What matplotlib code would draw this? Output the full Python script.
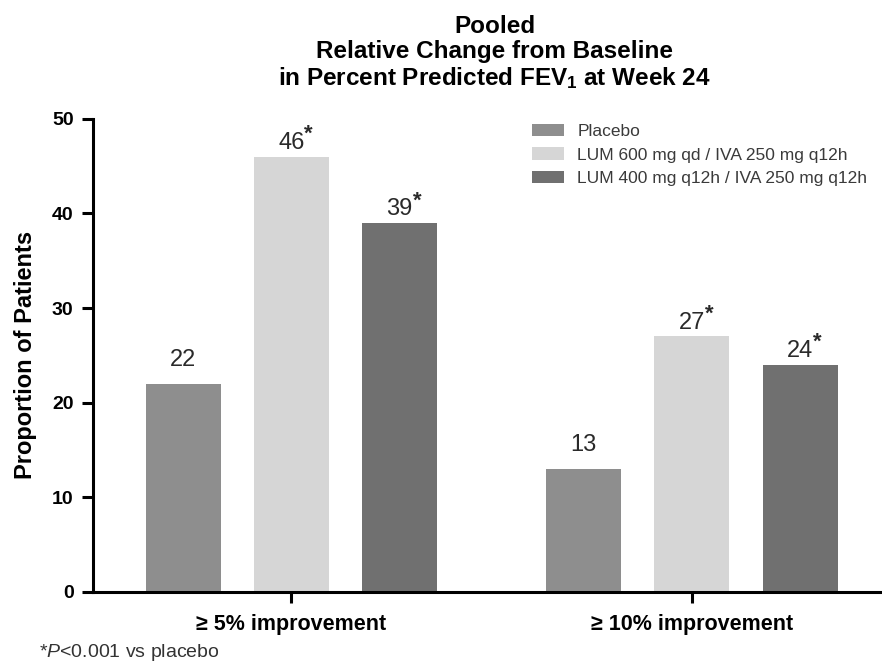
import matplotlib
matplotlib.use("Agg")
import matplotlib.pyplot as plt
import numpy as np

plt.rcParams['font.family'] = ['Liberation Sans', 'DejaVu Sans']
plt.rcParams['mathtext.fontset'] = 'custom'
plt.rcParams['mathtext.rm'] = 'Liberation Sans'
plt.rcParams['mathtext.it'] = 'Liberation Sans:italic'
plt.rcParams['mathtext.bf'] = 'Liberation Sans:bold'

# Data
groups = ["\u2265 5% improvement", "\u2265 10% improvement"]
series = ["Placebo",
          "LUM 600 mg qd / IVA 250 mg q12h",
          "LUM 400 mg q12h / IVA 250 mg q12h"]
placebo = [22, 13]
lum600 = [46, 27]
lum400 = [39, 24]
signif = [[False, False], [True, True], [True, True]]   # P<0.001 vs placebo
colors = ["#8e8e8e", "#d6d6d6", "#707070"]

fig = plt.figure(figsize=(8.82, 6.68), dpi=100)
ax = fig.add_axes([0.1054, 0.1138, 0.8926, 0.7083])

x = np.arange(len(groups))
width = 0.1875
offsets = [-0.27, 0.0, 0.27]

for i, (vals, name) in enumerate(zip([placebo, lum600, lum400], series)):
    bars = ax.bar(x + offsets[i], vals, width, color=colors[i], label=name)
    for j, b in enumerate(bars):
        cx = b.get_x() + b.get_width() / 2
        h = b.get_height()
        if signif[i][j]:
            ax.annotate(str(vals[j]), (cx, h), xytext=(0, 5.5), textcoords="offset points",
                        ha="center", va="baseline", fontsize=17, color="#2a2a2a")
            ax.annotate("*", (cx, h), xytext=(9.5, 12), textcoords="offset points",
                        ha="left", va="baseline", fontsize=16, fontweight="bold",
                        color="#2a2a2a")
        else:
            ax.annotate(str(vals[j]), (cx, h), xytext=(0, 13), textcoords="offset points",
                        ha="center", va="baseline", fontsize=17, color="#2a2a2a")

ax.set_ylim(0, 50)
ax.set_xlim(-0.495, 1.47)
ax.set_yticks([0, 10, 20, 30, 40, 50])
ax.set_xticks(x)
ax.set_xticklabels(groups, fontsize=15.5, fontweight="bold")
for lbl in ax.get_yticklabels():
    lbl.set_fontweight("bold")
    lbl.set_fontsize(14)
ax.tick_params(axis="both", length=8, width=2.2, pad=6)
ax.tick_params(axis="x", pad=8)

for s in ["top", "right"]:
    ax.spines[s].set_visible(False)
for s in ["left", "bottom"]:
    ax.spines[s].set_linewidth(2.2)

ax.set_ylabel("Proportion of Patients", fontsize=17, fontweight="bold", labelpad=11)

ax.legend(loc="upper left", bbox_to_anchor=(0.558, 0.99), frameon=False,
          fontsize=12.5, handlelength=1.8, handleheight=0.7, handletextpad=0.8,
          labelspacing=0.5, borderpad=0, borderaxespad=0, labelcolor="#3a3a3a")

fig.text(0.561, 0.978, "Pooled\nRelative Change from Baseline\n"
         r"in Percent Predicted FEV$_\mathbf{1}$ at Week 24",
         ha="center", va="top", fontsize=17.5, fontweight="bold", linespacing=1.12)

fig.text(0.044, 0.008, r"*$\mathit{P}$<0.001 vs placebo", fontsize=14,
         color="#333333", va="bottom")

fig.savefig("out.png", dpi=100)
